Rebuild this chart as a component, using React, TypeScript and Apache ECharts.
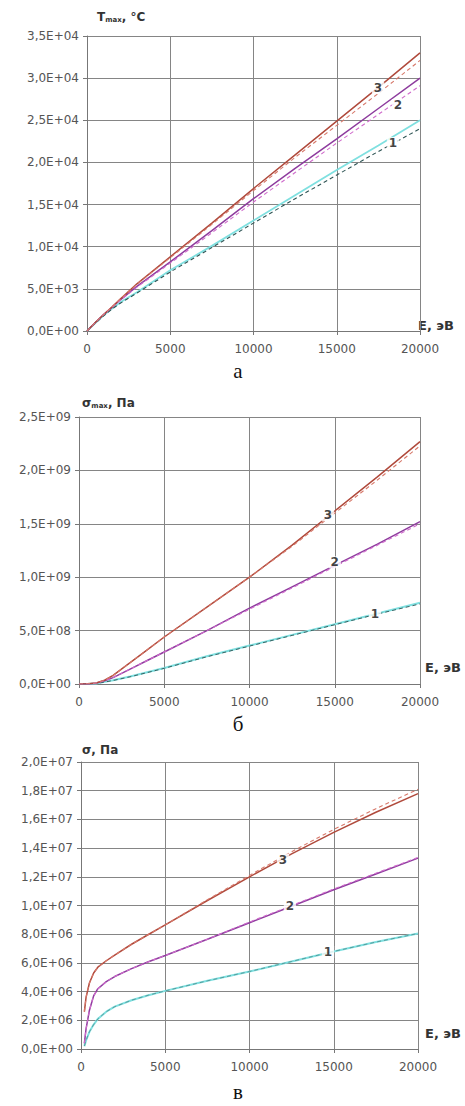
import React, { useEffect, useRef } from "react";
import * as echarts from "echarts";

// ---------- Panel а: Tmax, °C vs E, эВ ----------
const E_A = [0, 500, 1000, 1500, 2000, 3000, 5000, 7500, 10000, 12500, 15000, 17500, 20000];
const T1_SOLID = [0, 950, 1850, 2650, 3400, 4600, 7200, 10100, 13100, 16100, 19100, 22000, 25000];
const T1_DASH = [0, 930, 1800, 2600, 3300, 4500, 7000, 9900, 12800, 15700, 18500, 21300, 24000];
const T2_SOLID = [0, 1000, 1950, 2800, 3700, 5300, 8200, 11900, 15700, 19300, 22800, 26400, 30000];
const T2_DASH = [0, 1000, 1950, 2800, 3650, 5200, 8050, 11650, 15300, 18800, 22300, 25700, 29100];
const T3_SOLID = [0, 1000, 1950, 2850, 3800, 5600, 8800, 12800, 16900, 20900, 24900, 28900, 33000];
const T3_DASH = [0, 1000, 1950, 2850, 3780, 5550, 8700, 12650, 16650, 20600, 24400, 28200, 32100];
const LABELS_A = [
  { name: "3", value: [17480, 28830] },
  { name: "2", value: [18680, 26810] },
  { name: "1", value: [18380, 22300] },
];

// ---------- Panel б: σmax, Па vs E, эВ ----------
const E_B = [0, 500, 1000, 1500, 2000, 3000, 4000, 5000, 7500, 10000, 12500, 15000, 17500, 20000];
const S1_SOLID_B = [0, 0.001e9, 0.005e9, 0.02e9, 0.035e9, 0.07e9, 0.11e9, 0.15e9, 0.26e9, 0.36e9, 0.46e9, 0.56e9, 0.66e9, 0.76e9];
const S1_DASH_B = [0, 0.001e9, 0.005e9, 0.018e9, 0.033e9, 0.068e9, 0.107e9, 0.147e9, 0.255e9, 0.355e9, 0.455e9, 0.555e9, 0.655e9, 0.75e9];
const S2_SOLID_B = [0, 0.001e9, 0.008e9, 0.03e9, 0.06e9, 0.14e9, 0.22e9, 0.3e9, 0.5e9, 0.71e9, 0.91e9, 1.11e9, 1.31e9, 1.52e9];
const S2_DASH_B = [0, 0.001e9, 0.008e9, 0.03e9, 0.06e9, 0.14e9, 0.22e9, 0.3e9, 0.5e9, 0.7e9, 0.9e9, 1.1e9, 1.3e9, 1.5e9];
const S3_SOLID_B = [0, 0.002e9, 0.01e9, 0.035e9, 0.08e9, 0.2e9, 0.32e9, 0.44e9, 0.72e9, 1.0e9, 1.3e9, 1.62e9, 1.94e9, 2.27e9];
const S3_DASH_B = [0, 0.002e9, 0.01e9, 0.035e9, 0.08e9, 0.2e9, 0.32e9, 0.44e9, 0.72e9, 1.0e9, 1.29e9, 1.6e9, 1.91e9, 2.23e9];
const LABELS_B = [
  { name: "3", value: [14600, 1.58e9] },
  { name: "2", value: [15000, 1.14e9] },
  { name: "1", value: [17360, 0.66e9] },
];

// ---------- Panel в: σ, Па vs E, эВ ----------
const E_C = [200, 300, 500, 750, 1000, 1500, 2000, 3000, 4000, 5000, 7500, 10000, 12500, 15000, 17500, 20000];
const S1_SOLID_C = [0.2e6, 0.6e6, 1.2e6, 1.7e6, 2.1e6, 2.6e6, 2.95e6, 3.4e6, 3.75e6, 4.05e6, 4.75e6, 5.4e6, 6.1e6, 6.8e6, 7.45e6, 8.05e6];
const S1_DASH_C = [0.2e6, 0.6e6, 1.2e6, 1.7e6, 2.1e6, 2.6e6, 2.95e6, 3.4e6, 3.75e6, 4.05e6, 4.75e6, 5.4e6, 6.1e6, 6.8e6, 7.45e6, 8.05e6];
const S2_SOLID_C = [0.4e6, 1.4e6, 2.7e6, 3.7e6, 4.2e6, 4.7e6, 5.05e6, 5.6e6, 6.08e6, 6.52e6, 7.65e6, 8.8e6, 9.95e6, 11.1e6, 12.2e6, 13.3e6];
const S2_DASH_C = [0.4e6, 1.4e6, 2.7e6, 3.7e6, 4.2e6, 4.7e6, 5.05e6, 5.6e6, 6.08e6, 6.52e6, 7.65e6, 8.85e6, 10.0e6, 11.15e6, 12.25e6, 13.35e6];
const S3_SOLID_C = [2.6e6, 3.6e6, 4.6e6, 5.3e6, 5.7e6, 6.15e6, 6.55e6, 7.3e6, 7.98e6, 8.65e6, 10.35e6, 12.0e6, 13.6e6, 15.1e6, 16.5e6, 17.8e6];
const S3_DASH_C = [2.6e6, 3.6e6, 4.6e6, 5.3e6, 5.7e6, 6.15e6, 6.55e6, 7.3e6, 7.98e6, 8.65e6, 10.4e6, 12.1e6, 13.75e6, 15.3e6, 16.75e6, 18.1e6];
const LABELS_C = [
  { name: "3", value: [11990, 13.2e6] },
  { name: "2", value: [12400, 10.0e6] },
  { name: "1", value: [14660, 6.76e6] },
];

const X_MAX = 20000;
const X_STEP = 5000;

const COL3 = "#b04a3c";
const COL3D = "#d7786a";
const COL2 = "#8e3c9e";
const COL2D = "#d06ccc";
const COL1 = "#7fe0e0";
const COL1D = "#2f5555";

const LABEL_FONT = "DejaVu Sans";

function fmtSci(v: number): string {
  if (v === 0) return "0,0E+00";
  const e = Math.floor(Math.log10(v) + 1e-9);
  const m = v / Math.pow(10, e);
  return m.toFixed(1).replace(".", ",") + "E+" + String(e).padStart(2, "0");
}

function lineS(idx: number, xs: number[], ys: number[], color: string, dashed: boolean, width?: number) {
  return {
    type: "line",
    xAxisIndex: idx,
    yAxisIndex: idx,
    data: xs.map((x, i) => [x, ys[i]]),
    symbol: "none",
    smooth: false,
    lineStyle: {
      color,
      width: width ?? (dashed ? 1.1 : 1.5),
      type: dashed ? [4, 3] : "solid",
    },
    z: dashed ? 3 : 2,
    silent: true,
  };
}

function labelS(idx: number, labels: { name: string; value: number[] }[]) {
  return {
    type: "scatter",
    xAxisIndex: idx,
    yAxisIndex: idx,
    data: labels,
    symbolSize: 1,
    itemStyle: { color: "rgba(0,0,0,0)" },
    label: {
      show: true,
      position: "inside",
      formatter: "{b}",
      fontFamily: LABEL_FONT,
      fontWeight: "bold",
      fontSize: 12,
      color: "#111",
      backgroundColor: "#ffffff",
      padding: [0, 2],
    },
    z: 10,
    silent: true,
  };
}

function xAxisCfg(idx: number) {
  return {
    type: "value",
    gridIndex: idx,
    min: 0,
    max: X_MAX,
    interval: X_STEP,
    axisLine: { show: true, lineStyle: { color: "#777", width: 1 } },
    axisTick: { show: true, length: 4, lineStyle: { color: "#777" } },
    axisLabel: {
      fontFamily: LABEL_FONT,
      fontSize: 12,
      color: "#555",
      margin: 12,
      formatter: (v: number) => String(Math.round(v)),
    },
    splitLine: { show: true, lineStyle: { color: "#858585", width: 1 } },
  };
}

function yAxisCfg(idx: number, max: number, step: number) {
  return {
    type: "value",
    gridIndex: idx,
    min: 0,
    max,
    interval: step,
    axisLine: { show: true, lineStyle: { color: "#777", width: 1 } },
    axisTick: { show: true, length: 4, lineStyle: { color: "#777" } },
    axisLabel: {
      fontFamily: LABEL_FONT,
      fontSize: 12,
      color: "#555",
      margin: 8,
      formatter: (v: number) => fmtSci(v),
    },
    splitLine: { show: true, lineStyle: { color: "#858585", width: 1 } },
  };
}

function txt(x: number, y: number, text: string, size: number, extra: any = {}) {
  return {
    type: "text",
    x,
    y,
    style: {
      text,
      fontFamily: LABEL_FONT,
      fontWeight: "bold",
      fontSize: size,
      fill: "#333",
      textVerticalAlign: "middle",
      ...extra,
    },
  };
}

function richName(x: number, y: number, main: string, sub: string, rest: string) {
  return {
    type: "text",
    x,
    y,
    style: {
      text: `{a|${main}}{b|${sub}}{a|${rest}}`,
      textVerticalAlign: "middle",
      rich: {
        a: { fontFamily: LABEL_FONT, fontWeight: "bold", fontSize: 12, fill: "#333", lineHeight: 14 },
        b: { fontFamily: LABEL_FONT, fontWeight: "bold", fontSize: 7, fill: "#333", lineHeight: 14, padding: [6, 0, 0, 0] },
      },
    },
  };
}

function panelLetter(cx: number, cy: number, t: string) {
  return {
    type: "text",
    x: cx,
    y: cy,
    style: {
      text: t,
      fontFamily: "Liberation Serif",
      fontSize: 21,
      fill: "#111",
      textAlign: "center",
      textVerticalAlign: "middle",
    },
  };
}

export default function App() {
  const ref = useRef<HTMLDivElement>(null);
  useEffect(() => {
    if (!ref.current) return;
    const chart = echarts.init(ref.current, undefined, { renderer: "svg" });
    chart.setOption({
      animation: false,
      backgroundColor: "#ffffff",
      grid: [
        { left: 87, top: 36, width: 333, height: 295 },
        { left: 79, top: 417, width: 341, height: 267 },
        { left: 81, top: 762, width: 337, height: 287 },
      ],
      xAxis: [xAxisCfg(0), xAxisCfg(1), xAxisCfg(2)],
      yAxis: [yAxisCfg(0, 35000, 5000), yAxisCfg(1, 2.5e9, 5e8), yAxisCfg(2, 2e7, 2e6)],
      series: [
        lineS(0, E_A, T1_SOLID, COL1, false, 1.8),
        lineS(0, E_A, T1_DASH, COL1D, true),
        lineS(0, E_A, T2_SOLID, COL2, false),
        lineS(0, E_A, T2_DASH, COL2D, true),
        lineS(0, E_A, T3_SOLID, COL3, false),
        lineS(0, E_A, T3_DASH, COL3D, true),
        labelS(0, LABELS_A),
        lineS(1, E_B, S1_SOLID_B, COL1, false, 2),
        lineS(1, E_B, S1_DASH_B, COL1D, true, 0.9),
        lineS(1, E_B, S2_SOLID_B, COL2, false),
        lineS(1, E_B, S2_DASH_B, COL2D, true),
        lineS(1, E_B, S3_SOLID_B, COL3, false),
        lineS(1, E_B, S3_DASH_B, COL3D, true),
        labelS(1, LABELS_B),
        lineS(2, E_C, S1_SOLID_C, COL1, false, 2),
        lineS(2, E_C, S1_DASH_C, "#4a8a8a", true, 0.8),
        lineS(2, E_C, S2_SOLID_C, COL2, false),
        lineS(2, E_C, S2_DASH_C, COL2D, true),
        lineS(2, E_C, S3_SOLID_C, COL3, false),
        lineS(2, E_C, S3_DASH_C, COL3D, true),
        labelS(2, LABELS_C),
      ],
      graphic: [
        richName(97, 17, "T", "max", ", °C"),
        txt(418, 325, "E, эВ", 13),
        panelLetter(238, 371, "а"),
        richName(82, 403, "σ", "max", ", Па"),
        txt(425, 667, "E, эВ", 13),
        panelLetter(238, 724, "б"),
        txt(82, 750, "σ, Па", 12),
        txt(425, 1033, "E, эВ", 13),
        panelLetter(238, 1092, "в"),
      ],
    });
    return () => chart.dispose();
  }, []);
  return (
    <div
      ref={ref}
      style={{ position: "absolute", left: 0, top: 0, width: 465, height: 1106 }}
    />
  );
}
